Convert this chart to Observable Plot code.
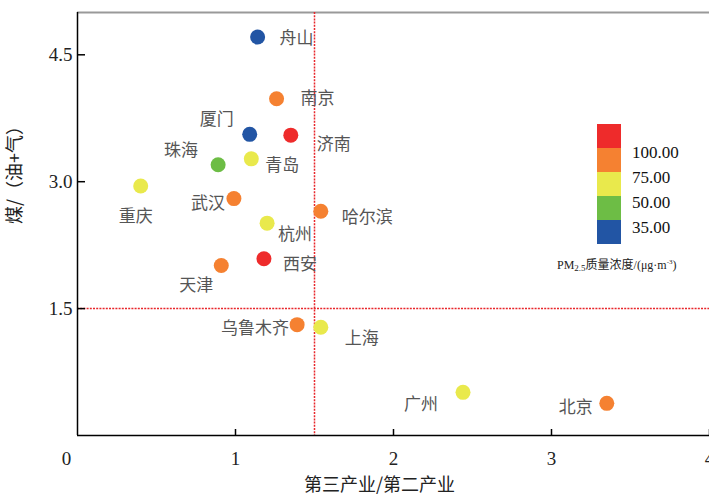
<!DOCTYPE html>
<html><head><meta charset="utf-8">
<script src="https://cdn.jsdelivr.net/npm/d3@7"></script>
<script src="https://cdn.jsdelivr.net/npm/@observablehq/plot@0.6"></script>
<style>
body{margin:0;background:#fff;}
#wrap{position:relative;width:709px;height:500px;overflow:hidden;background:#fff;}
#legend{position:absolute;left:597px;top:124px;font-family:"Liberation Serif",serif;color:#111;}
.lg-title{position:absolute;left:557px;top:255px;font-family:"Liberation Serif","Noto Sans CJK SC",serif;font-size:12px;color:#222;white-space:nowrap;}
.lg-title sub{font-size:9px;vertical-align:-2px;}
.lg-title sup{font-size:7px;vertical-align:5px;}
</style></head><body><div id="wrap"></div>
<script>
// ---- data ----
const cities = ["舟山","南京","厦门","济南","珠海","青岛","重庆","武汉","哈尔滨","杭州","西安","天津","乌鲁木齐","上海","广州","北京"];
const tertiaryToSecondary = [1.14,1.26,1.09,1.35,0.89,1.10,0.40,0.99,1.54,1.20,1.18,0.91,1.39,1.54,2.44,3.35];
const coalToOilGas = [4.71,3.98,3.56,3.55,3.20,3.27,2.95,2.80,2.65,2.51,2.09,2.01,1.31,1.28,0.51,0.38];
const pm25 = [30,78,33,114,42,66,70,94,81,70,105,96,85,62,53,89];
const pmThresholds = [35,50,75,100];
const pmColors = ["#2255a4","#6dbd45","#e9e94c","#f58131","#ee2b2b"];
const xTicks = [1,2,3,4];
const yTicks = [1.5,3.0,4.5];
const refX = 1.5, refY = 1.5;
const xTitle = "第三产业/第二产业";
const yTitle = "煤/（油+气）";

// label placement (anchor, dx, dy) per city
const labelPlacement = {
  "舟山":["start",22,2],"南京":["start",24,0],"厦门":["end",-16,-15],"济南":["start",26,9],
  "珠海":["end",-20,-14],"青岛":["start",14,7],"重庆":["middle",-5,31],"武汉":["end",-9,5],
  "哈尔滨":["start",21,6],"杭州":["start",11,11],"西安":["start",19,6],"天津":["end",-8,20],
  "乌鲁木齐":["end",-8,4],"上海":["start",24,11],"广州":["end",-25,12],"北京":["end",-14,4]
};

const data = cities.map((c,i)=>({city:c, x:tertiaryToSecondary[i], y:coalToOilGas[i], pm:pm25[i]}));

const serif = "Liberation Serif, Times New Roman, serif";
const cjk = "Noto Sans CJK SC, sans-serif";

const labelMarks = data.map(d => {
  const [a,dx,dy] = labelPlacement[d.city];
  return Plot.text([d], {x:"x", y:"y", text:"city", textAnchor:a, dx, dy, fontSize:17, fill:"#555", fontFamily:cjk, letterSpacing:"2px"});
});

const chart = Plot.plot({
  width:709, height:500,
  marginLeft:77, marginTop:12, marginRight:0, marginBottom:65,
  style:{background:"#fff", overflow:"visible"},
  x:{domain:[0,4], axis:null},
  y:{domain:[0,5], axis:null},
  color:{type:"threshold", domain:pmThresholds, range:pmColors},
  marks:[
    Plot.ruleY([5], {stroke:"#999", strokeWidth:2}),
    Plot.ruleX([refX], {stroke:"#e8262b", strokeWidth:1.5, strokeDasharray:"2,1.2"}),
    Plot.ruleY([refY], {stroke:"#e8262b", strokeWidth:1.5, strokeDasharray:"2,1.2"}),
    Plot.ruleX([0], {stroke:"#000", strokeWidth:1.5}),
    Plot.ruleY([0], {stroke:"#000", strokeWidth:1.5}),
    Plot.axisX(xTicks, {tickSize:-6, tickFormat:()=>"", stroke:"#000", strokeWidth:1.5, label:null}),
    Plot.axisY(yTicks, {tickSize:-8, tickFormat:()=>"", stroke:"#000", strokeWidth:1.5, label:null}),
    Plot.axisX(xTicks, {tickSize:0, tickPadding:16, tickFormat:d3.format("d"), fontSize:19, fontFamily:serif, fill:"#222", label:null}),
    Plot.axisX([0], {tickSize:0, tickPadding:16, tickFormat:d3.format("d"), dx:-11, fontSize:19, fontFamily:serif, fill:"#222", label:null}),
    Plot.axisY(yTicks, {tickSize:0, tickPadding:5, tickFormat:d3.format(".1f"), fontSize:19, fontFamily:serif, fill:"#222", label:null}),
    Plot.dot(data, {x:"x", y:"y", fill:"pm", r:7.5}),
    ...labelMarks,
    Plot.text([xTitle], {frameAnchor:"bottom", dy:55, dx:-14, fontSize:18, fill:"#222", fontFamily:cjk}),
    Plot.text([yTitle], {frameAnchor:"left", dx:-62, rotate:-90, fontSize:18, fill:"#222", fontFamily:cjk})
  ]
});
const wrap = document.getElementById("wrap");
wrap.appendChild(chart);

// legend: vertical threshold colour bar
const lg = d3.select(wrap).append("div").attr("id","legend");
const blockH = 24;
const colorsTopDown = pmColors.slice().reverse();
colorsTopDown.forEach((c,i)=>{
  lg.append("div").style("position","absolute").style("left","0px").style("top",(i*blockH)+"px")
    .style("width","24px").style("height",blockH+"px").style("background",c);
});
const thrTopDown = pmThresholds.slice().reverse();
thrTopDown.forEach((t,i)=>{
  lg.append("div").style("position","absolute").style("left","35px").style("top",((i+1)*blockH-5+i)+"px")
    .style("font-size","17px").style("line-height","20px").style("white-space","nowrap").text(d3.format(".2f")(t));
});
d3.select(wrap).append("div").attr("class","lg-title")
  .html("PM<sub>2.5</sub>质量浓度/(μg·m<sup>-3</sup>)");
</script></body></html>
